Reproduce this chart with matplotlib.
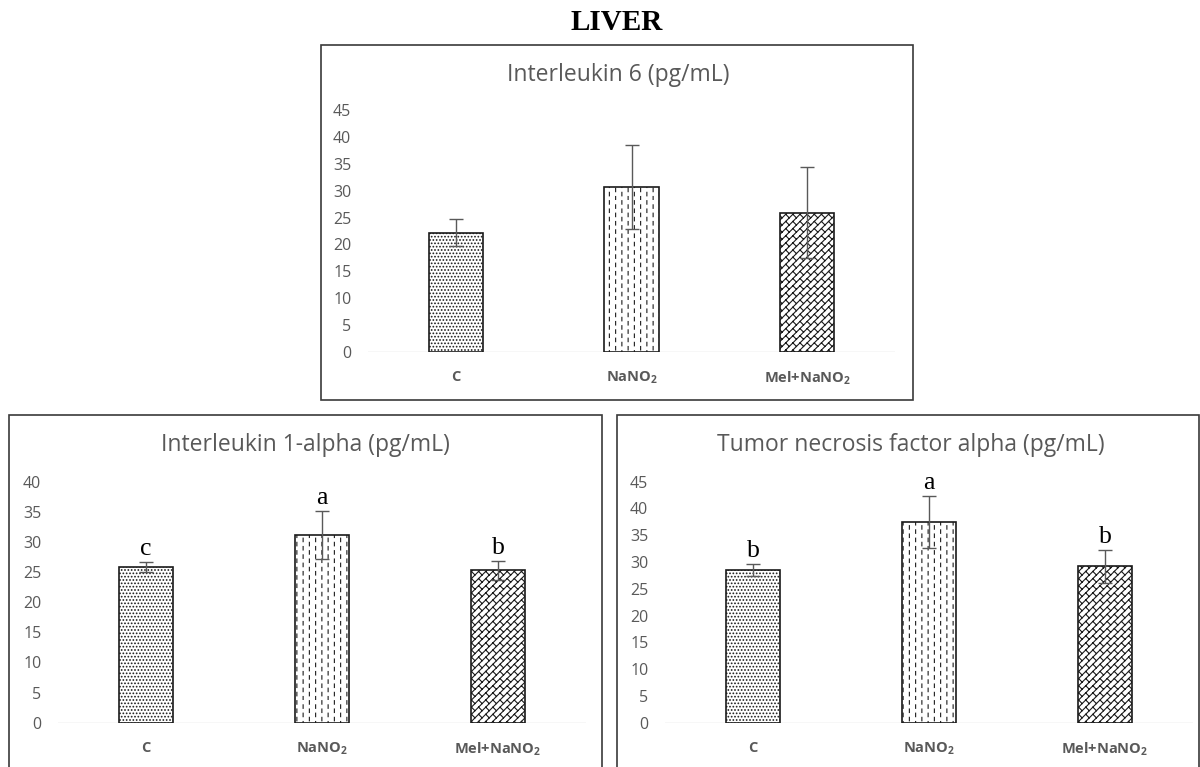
import warnings
import matplotlib
matplotlib.use("Agg")
import matplotlib.pyplot as plt
import matplotlib.hatch as mhatch
from matplotlib.path import Path
from matplotlib.patches import Rectangle

# data (mean and SD, pg/mL)
groups = ["C", "NaNO$_2$", "Mel+NaNO$_2$"]

il6_mean = [22.2, 30.7, 25.9]
il6_sd = [2.5, 7.8, 8.5]

il1a_mean = [25.8, 31.1, 25.3]
il1a_sd = [0.8, 4.0, 1.6]
il1a_letters = ["c", "a", "b"]

tnfa_mean = [28.5, 37.5, 29.2]
tnfa_sd = [1.2, 4.8, 3.1]
tnfa_letters = ["b", "a", "b"]

hatches = [".....", ":", "~"]


# excel-like fills that matplotlib does not have
class DashColumns(mhatch.HatchPatternBase):
    def __init__(self, hatch, density):
        self.cols = hatch.count(":") * 16
        self.rows = 12
        self.num_vertices = self.cols * self.rows * 2

    def set_vertices_and_codes(self, vertices, codes):
        pts = []
        for i in range(self.cols):
            x = (i + 0.5) / self.cols
            for j in range(self.rows):
                y0 = (j + 0.5 * (i % 2)) / self.rows
                pts.append((x, y0))
                pts.append((x, y0 + 0.42 / self.rows))
        vertices[:] = pts
        codes[0::2] = Path.MOVETO
        codes[1::2] = Path.LINETO


class DiagonalBrick(mhatch.HatchPatternBase):
    def __init__(self, hatch, density):
        self.n = hatch.count("~") * 14
        n = self.n
        self.num_vertices = (2 * n + 1) * 2 + (2 * n + 1) * (3 * n) * 2 if n else 0

    def set_vertices_and_codes(self, vertices, codes):
        n = self.n
        pts = []
        # long "/" lines
        for k in range(-n, n + 1):
            c = k / n
            pts.append((-1.0, -1.0 - c))
            pts.append((2.0, 2.0 - c))
        # short joints between neighbouring lines
        for k in range(-n, n + 1):
            c = k / n
            for j in range(-n, 2 * n):
                t = j / n
                pts.append((t, t - c))
                pts.append((t + 0.5 / n, t - c - 0.5 / n))
        vertices[:] = pts
        codes[0::2] = Path.MOVETO
        codes[1::2] = Path.LINETO


mhatch._hatch_types.extend([DashColumns, DiagonalBrick])
warnings.filterwarnings("ignore", message=".*hatch must consist.*")

plt.rcParams["font.family"] = ["Open Sans", "DejaVu Sans"]
plt.rcParams["mathtext.default"] = "regular"
plt.rcParams["hatch.linewidth"] = 0.8

W, H = 1200, 767
fig = plt.figure(figsize=(W / 100, H / 100), dpi=100)

grey = "#595959"


def fx(px):
    return px / W


def fy(py):
    return 1 - py / H


def box(x0, y0, x1, y1):
    fig.add_artist(Rectangle((fx(x0), fy(y1)), fx(x1 - x0), fy(y0) - fy(y1),
                             transform=fig.transFigure, fill=False,
                             ec="#3a3a3a", lw=1.2))


def panel(left, right, top, bottom, means, sds, ymax, letters=None):
    ax = fig.add_axes([fx(left), fy(bottom), fx(right - left), fy(top) - fy(bottom)])
    x = range(len(groups))
    ax.bar(x, means, width=0.31, color="white", edgecolor="#1a1a1a",
           linewidth=1.2, zorder=2)
    for patch, h in zip(ax.patches, hatches):
        patch.set_hatch(h)
    ax.errorbar(x, means, yerr=sds, fmt="none", ecolor=grey, elinewidth=1,
                capsize=5, capthick=1, zorder=3)
    if letters:
        for xi, m, s, lab in zip(x, means, sds, letters):
            ax.annotate(lab, (xi, m + s), xytext=(0, 5), textcoords="offset points",
                        ha="center", va="baseline", fontsize=18.5,
                        family="Liberation Serif", color="black")
    ax.axhline(0, color="#d9d9d9", lw=1, zorder=1)
    ax.set_xlim(-0.5, 2.5)
    ax.set_ylim(0, ymax)
    ax.set_yticks(range(0, ymax + 1, 5))
    ax.set_xticks(list(x))
    ax.set_xticklabels(groups, fontweight="bold", fontsize=10.5, color=grey)
    ax.tick_params(axis="y", length=0, pad=12, labelsize=11.5, labelcolor=grey)
    ax.tick_params(axis="x", length=0, pad=13)
    for sp in ax.spines.values():
        sp.set_visible(False)
    ax.patch.set_alpha(0)
    return ax


# frames around each chart
box(321, 45, 913, 400)
box(9, 415, 602, 800)
box(617, 415, 1199, 800)

fig.text(fx(617), fy(22), "LIVER", ha="center", va="center", fontsize=21,
         fontweight="bold", family="Liberation Serif")

panel(368, 895, 110, 352, il6_mean, il6_sd, 45)
fig.text(fx(618), fy(75), "Interleukin 6 (pg/mL)", ha="center", va="center",
         fontsize=16.5, color=grey)

panel(58, 586, 481.7, 722.7, il1a_mean, il1a_sd, 40, il1a_letters)
fig.text(fx(305), fy(445), "Interleukin 1-alpha (pg/mL)", ha="center",
         va="center", fontsize=16.5, color=grey)

panel(665, 1193, 481.7, 722.7, tnfa_mean, tnfa_sd, 45, tnfa_letters)
fig.text(fx(911), fy(445), "Tumor necrosis factor alpha (pg/mL)", ha="center",
         va="center", fontsize=16.5, color=grey)

fig.savefig("out.png", dpi=100, facecolor="white")
